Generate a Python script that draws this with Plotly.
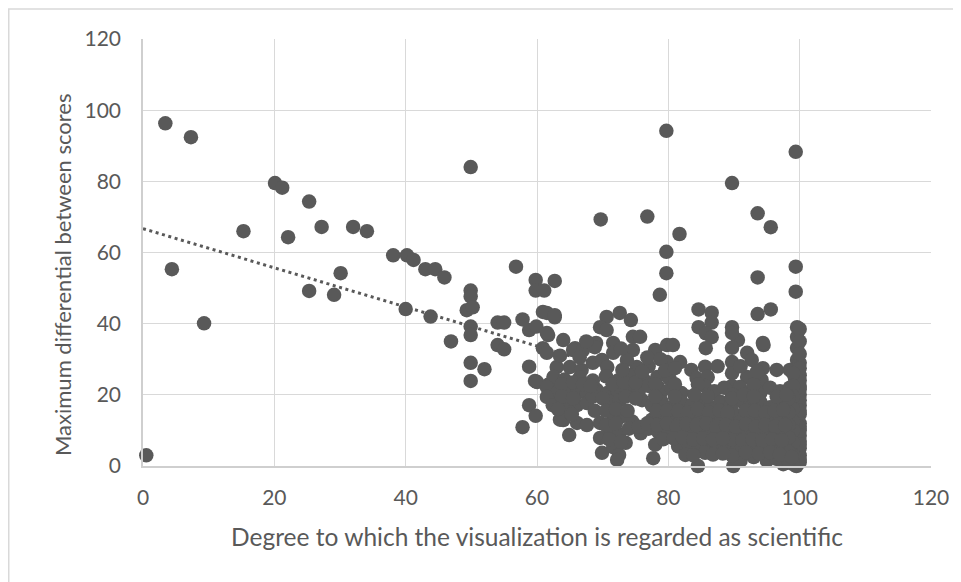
import plotly.graph_objects as go

# ---- data ----
sparse_x = [0.5, 3.4, 7.3, 4.4, 9.3, 15.3, 20.1, 21.2, 22.1, 25.3, 25.3, 27.2, 29.1, 30.1, 32.0, 34.1,
            38.1, 40.2, 41.2, 40.0, 43.0, 44.5, 45.9, 43.8, 46.9, 49.9, 49.9, 49.9, 49.3, 50.2, 49.9, 49.9,
            49.9, 52.0, 49.9, 54.0, 55.0, 54.0, 55.0, 56.8, 59.8, 59.8, 61.1, 62.7, 57.8, 58.8, 59.9, 60.9,
            62.7, 61.7, 60.9, 58.8, 59.7, 61.7, 58.8, 59.8, 57.8, 64.0, 65.8, 64.0, 64.9]
sparse_y = [3.0, 96.3, 92.4, 55.3, 40.1, 66.0, 79.5, 78.2, 64.3, 74.3, 49.2, 67.2, 48.1, 54.2, 67.2, 66.0,
            59.2, 59.2, 57.9, 44.1, 55.3, 55.3, 53.0, 42.0, 35.0, 84.0, 49.3, 47.6, 43.8, 44.6, 39.2, 36.8,
            29.0, 27.2, 23.9, 40.3, 40.3, 34.0, 32.8, 56.0, 52.3, 49.3, 49.3, 52.0, 41.2, 38.2, 39.2, 43.3,
            41.8, 36.8, 33.1, 27.9, 23.9, 22.8, 17.1, 14.1, 10.9, 35.4, 33.1, 12.9, 8.7]

upper_right_x = [69.7, 76.8, 79.7, 81.7, 79.7, 79.7, 78.7, 89.7, 93.6, 95.6, 99.4, 93.6, 99.4, 99.4, 93.6,
                 95.6, 84.6, 86.6, 86.6, 84.6, 85.7, 86.6, 85.7, 85.6, 89.7, 94.5]
upper_right_y = [69.3, 70.1, 94.2, 65.2, 60.2, 54.2, 48.1, 79.5, 71.0, 67.1, 88.3, 53.0, 56.0, 49.0, 42.7,
                 44.0, 44.0, 43.1, 40.3, 39.0, 37.3, 36.2, 33.1, 27.9, 39.0, 34.0]

cluster_top_x = [61.5, 62.7, 61.5, 70.6, 72.6, 74.3, 69.6, 70.6, 69.0, 71.6, 74.6, 75.7, 65.5, 67.0, 68.8,
                 61.5, 78.0, 79.8, 80.7, 81.8, 79.8, 74.6, 75.2, 90.6, 94.4, 89.7, 92.0, 92.7, 94.4, 89.7,
                 89.7, 99.6, 99.6, 99.6, 99.6, 99.6, 98.5, 89.7]
cluster_top_y = [43.0, 42.4, 37.4, 41.9, 43.0, 41.0, 39.0, 38.2, 34.6, 34.6, 36.3, 36.3, 32.6, 32.6, 33.4,
                 31.8, 32.6, 34.0, 34.0, 29.2, 29.2, 32.6, 27.8, 35.4, 34.6, 33.2, 31.8, 29.8, 27.5, 29.2,
                 26.1, 39.0, 36.3, 33.2, 29.8, 27.0, 27.0, 37.4]

cluster_mid_x = [63.0, 65.0, 66.8, 68.5, 69.9, 70.7, 73.7, 71.6, 77.0, 83.5, 87.5, 96.5, 100.0, 100.0,
                 62.5, 64.2, 66.5, 68.5, 70.5, 72.3, 74.0, 76.3, 78.3, 80.2, 84.3, 86.0, 89.7, 92.0, 94.2,
                 99.3, 100.0,
                 60.0, 61.5, 63.0, 64.6, 66.1, 67.6, 69.1, 70.7, 72.2, 74.0, 75.5, 77.0, 79.0, 80.5, 82.0,
                 85.5, 87.0, 88.5, 90.9, 92.5, 94.0, 95.5, 97.0, 98.5, 100.0, 99.3]
cluster_mid_y = [27.8, 27.8, 27.0, 29.0, 29.8, 27.8, 29.8, 31.8, 28.0, 27.0, 28.0, 27.0, 29.0, 25.5,
                 25.0, 24.3, 24.8, 24.0, 25.2, 24.0, 25.5, 24.2, 25.0, 24.5, 24.7, 25.0, 22.5, 25.0, 24.2,
                 24.5, 22.5,
                 23.6, 22.2, 20.5, 21.4, 20.5, 20.5, 21.4, 20.5, 21.4, 22.0, 21.0, 22.5, 21.0, 22.0, 20.5,
                 22.5, 21.0, 22.0, 22.2, 21.0, 20.5, 22.0, 21.0, 22.0, 20.0, 18.5]

cluster_low_x = [61.5, 62.4, 64.6, 66.1, 67.6, 71.1, 72.6, 76.0, 77.5, 79.0, 80.5, 82.0, 83.5, 85.0, 86.5,
                 88.0, 89.5, 91.0, 92.5, 94.0, 95.5, 97.0, 98.5, 100.0, 100.0,
                 63.5, 66.1, 67.6, 69.6, 71.6, 73.0, 74.5, 77.5, 79.0, 80.5, 82.0, 83.5, 85.0, 86.5, 88.0,
                 89.5, 91.0, 92.5, 94.0, 95.5, 97.0, 98.5, 100.0, 100.0,
                 69.6, 71.0, 72.5, 74.0, 75.8, 77.0, 78.5, 80.0, 81.5, 83.0, 84.5, 86.0, 87.5, 89.0, 90.5,
                 92.0, 93.5, 95.0, 96.5, 98.0, 99.5, 100.0]
cluster_low_y = [19.4, 17.1, 18.0, 17.1, 17.7, 18.0, 18.5, 18.5, 17.0, 18.0, 16.5, 18.0, 17.0, 18.5, 16.5,
                 18.0, 17.0, 18.5, 17.0, 18.0, 16.5, 18.0, 17.0, 17.0, 14.5,
                 13.0, 12.1, 11.5, 12.1, 12.9, 14.0, 12.5, 13.0, 14.0, 12.5, 14.0, 13.0, 14.5, 12.5, 14.0,
                 12.5, 14.0, 13.0, 14.5, 12.5, 14.0, 13.0, 12.0, 10.0,
                 7.9, 10.0, 9.0, 10.5, 9.2, 10.5, 9.5, 10.5, 9.0, 10.0, 9.0, 10.5, 9.0, 10.5, 9.0,
                 10.0, 8.5, 10.0, 9.0, 10.0, 8.5, 7.0]

cluster_bottom_x = [69.9, 71.6, 72.5, 73.5, 78.0, 81.5, 83.0, 84.5, 86.0, 87.5, 89.0, 90.5, 92.0, 93.5,
                    95.0, 96.5, 98.0, 99.0, 100.0, 100.0,
                    72.2, 77.7, 82.6, 84.5, 85.6, 87.4, 89.9, 91.0, 93.0, 95.0, 96.5, 97.5, 98.5, 99.5,
                    100.0, 100.0]
cluster_bottom_y = [3.7, 5.3, 3.1, 6.5, 6.0, 5.5, 6.5, 5.0, 6.0, 5.5, 6.0, 5.0, 6.5, 5.0,
                    6.0, 5.0, 6.0, 4.5, 5.0, 3.0,
                    1.7, 2.2, 3.1, 0.0, 3.7, -0.5, 0.0, 1.5, 2.5, 1.5, 2.0, 0.5, 1.0, 0.0,
                    1.0, -0.5]

columns_x = [89.7, 89.7, 89.7, 89.7,
             100.0, 100.0, 100.0, 100.0, 100.0, 100.0, 100.0, 100.0, 100.0, 100.0, 100.0, 100.0,
             99.0, 99.0, 99.0, 99.0, 99.0, 99.0, 99.0, 99.0, 99.0,
             98.3, 98.3, 98.3, 98.3, 98.3, 98.3]
columns_y = [20.0, 15.5, 7.5, 3.0,
             38.5, 35.0, 31.5, 27.5, 24.0, 21.5, 18.5, 15.5, 11.0, 8.5, 6.0, 2.0,
             26.0, 22.5, 19.5, 16.0, 12.5, 10.0, 6.5, 3.0, 0.5,
             19.0, 15.0, 11.5, 8.0, 4.0, 1.5]

fill_x = [63.8, 65.5, 67.0, 71.5, 73.2, 75.0, 78.0, 81.0, 84.5, 93.0,
          63.8, 65.5, 68.5, 70.0, 73.5, 75.0, 78.0, 81.0, 84.0, 86.0, 89.7, 91.5, 93.0, 96.5, 98.0,
          65.0, 68.8, 70.5, 72.0, 73.8, 78.2, 79.8, 81.5, 83.0, 84.5, 86.2, 87.8, 89.0, 91.8, 93.2,
          94.8, 96.2, 97.5,
          70.5, 72.0, 75.5, 76.8, 78.3, 79.8, 81.3, 82.8, 84.3, 85.8, 87.3, 88.8, 90.3, 91.8, 93.3,
          94.8, 96.3, 97.8,
          71.0, 72.8, 79.2, 80.8, 82.2, 83.8, 85.3, 86.8, 88.3, 91.3, 92.8, 94.3, 95.8, 97.3,
          83.8, 86.8, 88.3, 91.8, 93.8, 95.5, 97.0, 98.8,
          63.5, 66.5, 72.8, 76.8, 78.8, 91.0, 93.5,
          63.2, 68.2, 73.0, 76.0, 79.5, 81.0, 67.5, 65.3]
fill_y = [23.0, 23.5, 23.0, 23.0, 23.5, 23.5, 23.0, 23.0, 23.0, 23.0,
          19.5, 19.0, 19.5, 19.0, 19.5, 19.0, 19.5, 19.5, 20.0, 19.5, 19.0, 20.0, 19.5, 19.5, 20.0,
          15.0, 15.5, 15.5, 16.0, 15.5, 15.5, 15.5, 15.5, 15.0, 16.0, 15.0, 15.5, 15.0, 15.5, 15.5,
          15.0, 15.5, 15.8,
          11.5, 12.0, 11.0, 12.0, 11.5, 12.0, 11.0, 11.8, 11.5, 12.0, 11.0, 11.5, 11.0, 11.8, 11.0,
          11.5, 11.0, 11.5,
          7.5, 6.8, 7.5, 7.8, 8.0, 7.5, 7.8, 7.5, 7.8, 7.2, 7.5, 7.2, 7.5, 7.2,
          3.0, 3.2, 3.5, 3.8, 3.5, 3.8, 3.2, 2.5,
          31.0, 30.5, 33.0, 30.5, 30.0, 28.0, 26.5,
          16.0, 22.5, 27.0, 26.5, 26.8, 27.5, 35.0, 14.5]

# linear trend line as drawn in the reference (endpoints)
trend_x = [0, 100]
trend_y = [66.7, 11.7]

x_ticks = [0, 20, 40, 60, 80, 100, 120]
y_ticks = [0, 20, 40, 60, 80, 100, 120]

x_title = "Degree to which the visualization is regarded as scientific"
y_title = "Maximum differential between scores"

# ---- assemble ----
xs = (sparse_x + upper_right_x + cluster_top_x + cluster_mid_x + cluster_low_x + cluster_bottom_x
      + columns_x + fill_x)
ys = (sparse_y + upper_right_y + cluster_top_y + cluster_mid_y + cluster_low_y + cluster_bottom_y
      + columns_y + fill_y)

DARK = "#595959"
GRID = "#d9d9d9"
FONT = "Lato"

# page has an 8px body margin; figure sized to fit the 961x582 window
W, H = 953, 574
L, R, T, B = 135, 30, 31, 116
PW, PH = W - L - R, H - T - B

fig = go.Figure()
fig.add_trace(go.Scatter(
    x=trend_x, y=trend_y, mode="lines",
    line=dict(color=DARK, width=3, dash="3px,3.6px"),
    hoverinfo="skip", showlegend=False,
))
fig.add_trace(go.Scatter(
    x=xs, y=ys, mode="markers",
    marker=dict(size=14.5, color=DARK, line=dict(width=0)),
    cliponaxis=False, showlegend=False,
))

fig.update_layout(
    width=W, height=H,
    margin=dict(l=L, r=R, t=T, b=B),
    paper_bgcolor="white", plot_bgcolor="white",
    font=dict(family=FONT, color=DARK, size=21),
    showlegend=False,
    shapes=[dict(type="rect", xref="paper", yref="paper",
                 x0=(0.75 - L) / PW, x1=(W + 10 - L) / PW,
                 y0=(T + PH - (H + 10)) / PH, y1=(T + PH - 1) / PH,
                 line=dict(color=GRID, width=1.5), fillcolor="rgba(0,0,0,0)", layer="below")],
    annotations=[dict(text=y_title, textangle=-90, showarrow=False,
                      xref="paper", yref="paper",
                      x=(54 - L) / PW, y=(T + PH - 267) / PH,
                      xanchor="center", yanchor="middle",
                      font=dict(family=FONT, size=22, color=DARK))],
)
fig.update_xaxes(
    range=[0, 120], tickvals=x_ticks, ticktext=[str(v) for v in x_ticks],
    showgrid=True, gridcolor=GRID, gridwidth=1.3,
    showline=True, linecolor="#cfcfcf", linewidth=1.5, zeroline=False,
    ticks="", ticklabelstandoff=12,
    tickfont=dict(family=FONT, size=21, color=DARK),
    title=dict(text=x_title, font=dict(family=FONT, size=24.5, color=DARK), standoff=21),
    automargin=False,
)
fig.update_yaxes(
    range=[0, 120], tickvals=y_ticks, ticktext=[str(v) for v in y_ticks],
    showgrid=True, gridcolor=GRID, gridwidth=1.3,
    showline=True, linecolor="#cfcfcf", linewidth=1.5, zeroline=False,
    ticks="", ticklabelstandoff=16,
    tickfont=dict(family=FONT, size=21, color=DARK),
    automargin=False,
)

fig.write_html("out.html")
